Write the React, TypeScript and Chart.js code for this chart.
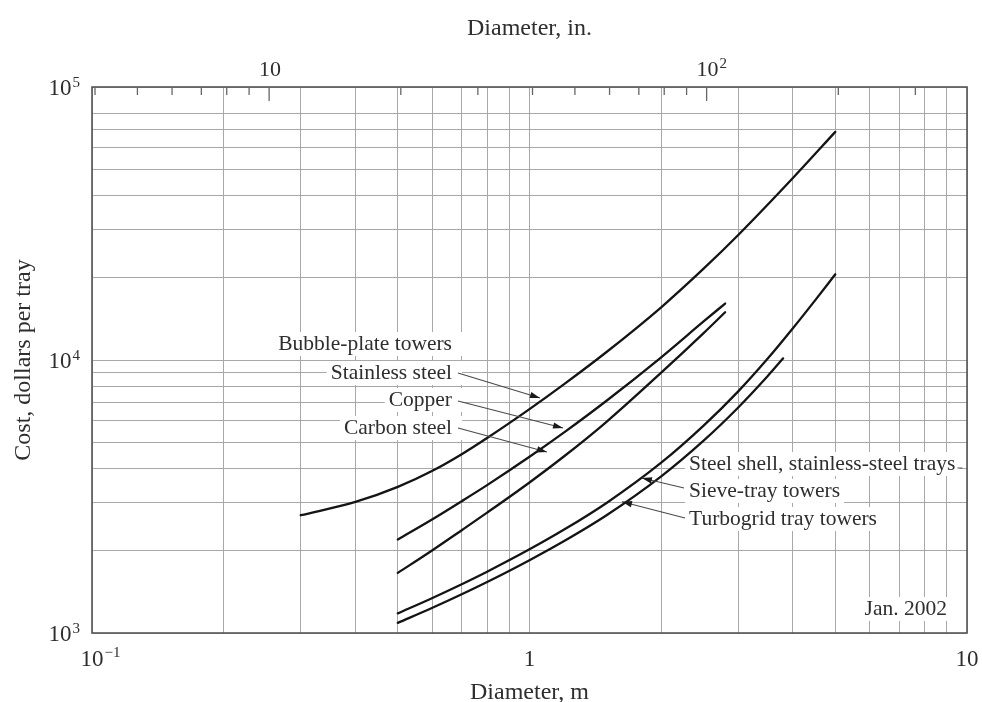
import React, { useEffect, useRef } from "react";
import { Chart, registerables } from "chart.js";

Chart.register(...registerables);

// ---------- axis / grid values ----------
const X_MIN = 0.1;
const X_MAX = 10;
const Y_MIN = 1000;
const Y_MAX = 100000;
const M_TO_IN = 39.37;

const xGridValues = [0.1, 0.2, 0.3, 0.4, 0.5, 0.6, 0.7, 0.8, 0.9, 1, 2, 3, 4, 5, 6, 7, 8, 9, 10];
const yGridValues = [1000, 2000, 3000, 4000, 5000, 6000, 7000, 8000, 9000, 10000, 20000, 30000, 40000, 50000, 60000, 70000, 80000, 100000];
const inchTickValues = [4, 5, 6, 7, 8, 9, 10, 20, 30, 40, 50, 60, 70, 80, 90, 100, 200, 300];
const inchMajorTicks = [10, 100];

const xTickLabels = [
  { value: 0.1, base: "10", exp: "\u22121" },
  { value: 1, base: "1", exp: "" },
  { value: 10, base: "10", exp: "" },
];
const yTickLabels = [
  { value: 1000, base: "10", exp: "3" },
  { value: 10000, base: "10", exp: "4" },
  { value: 100000, base: "10", exp: "5" },
];
const inchTickLabels = [
  { value: 10, base: "10", exp: "" },
  { value: 100, base: "10", exp: "2" },
];

// ---------- series (diameter m, cost $ per tray) ----------
const stainlessX = [0.3, 0.4, 0.5, 0.6, 0.7, 0.8, 1.0, 1.2, 1.5, 2, 2.5, 3, 4, 5];
const stainlessY = [2700, 3020, 3430, 3930, 4520, 5180, 6610, 8160, 10700, 15600, 21600, 28700, 46400, 68500];

const copperX = [0.5, 0.6, 0.7, 0.8, 1.0, 1.2, 1.5, 2, 2.5, 2.8];
const copperY = [2200, 2610, 3040, 3480, 4420, 5430, 7090, 10230, 13840, 16100];

const carbonX = [0.5, 0.6, 0.7, 0.8, 1.0, 1.2, 1.5, 2, 2.5, 2.8];
const carbonY = [1660, 2010, 2380, 2760, 3560, 4440, 5940, 8990, 12550, 14960];

const sieveX = [0.5, 0.6, 0.7, 0.8, 1.0, 1.2, 1.5, 2, 2.5, 3, 3.5, 4, 4.5, 5];
const sieveY = [1180, 1344, 1509, 1677, 2025, 2392, 2995, 4206, 5750, 7677, 10100, 13070, 16570, 20600];

const turboX = [0.5, 0.6, 0.7, 0.8, 1.0, 1.2, 1.5, 2, 2.5, 3, 3.5, 3.8];
const turboY = [1089, 1237, 1386, 1537, 1848, 2172, 2700, 3749, 5066, 6702, 8719, 10140];

// ---------- annotations (data coordinates) ----------
const leftLabels = [
  { text: "Bubble-plate towers", x: 0.665, y: 10880 },
  { text: "Stainless steel", x: 0.665, y: 8519 },
  { text: "Copper", x: 0.665, y: 6785 },
  { text: "Carbon steel", x: 0.665, y: 5357 },
];
const rightLabels = [
  { text: "Steel shell, stainless-steel trays", x: 2.316, y: 3954 },
  { text: "Sieve-tray towers", x: 2.316, y: 3150 },
  { text: "Turbogrid tray towers", x: 2.316, y: 2486 },
];
const dateLabel = { text: "Jan. 2002", x: 9.0, y: 1164 };

const arrows = [
  { fromX: 0.6865, fromY: 8963, toX: 1.057, toY: 7260 },
  { fromX: 0.6865, fromY: 7077, toX: 1.193, toY: 5635 },
  { fromX: 0.6865, fromY: 5635, toX: 1.096, toY: 4603 },
  { fromX: 2.255, fromY: 3397, toX: 1.807, toY: 3697 },
  { fromX: 2.267, fromY: 2638, toX: 1.627, toY: 3027 },
];

const FONT = "'Liberation Serif', 'Times New Roman', serif";
const TEXT_COLOR = "#2e2e2e";
const GRID_COLOR = "#a8a8a8";
const LABEL_SIZE = 21.5;

function pts(xs: number[], ys: number[]) {
  return xs.map((x, i) => ({ x, y: ys[i] }));
}

function drawPow(
  ctx: CanvasRenderingContext2D,
  base: string,
  exp: string,
  x: number,
  y: number,
  mode: "baseCenter" | "right",
  baseSize: number,
  expSize: number,
  raise: number
) {
  ctx.font = `${baseSize}px ${FONT}`;
  const bw = ctx.measureText(base).width;
  ctx.font = `${expSize}px ${FONT}`;
  const ew = exp ? ctx.measureText(exp).width : 0;
  let sx = x - bw / 2;
  if (mode === "right") sx = x - bw - ew - 1;
  ctx.textAlign = "left";
  ctx.textBaseline = "alphabetic";
  ctx.font = `${baseSize}px ${FONT}`;
  ctx.fillText(base, sx, y);
  if (exp) {
    ctx.font = `${expSize}px ${FONT}`;
    ctx.fillText(exp, sx + bw + 1, y - raise);
  }
}

const decorPlugin = {
  id: "decor",
  beforeDatasetsDraw(chart: any) {
    const ctx: CanvasRenderingContext2D = chart.ctx;
    const xs = chart.scales.x;
    const ys = chart.scales.y;
    ctx.save();
    ctx.font = `${LABEL_SIZE}px ${FONT}`;
    ctx.fillStyle = "#ffffff";
    const box = (left: number, right: number, base: number) => {
      ctx.fillRect(left - 4, base - 18, right - left + 8, 24);
    };
    leftLabels.forEach((l) => {
      const px = xs.getPixelForValue(l.x);
      const py = ys.getPixelForValue(l.y);
      const w = ctx.measureText(l.text).width;
      box(px - w, px + 6, py);
    });
    rightLabels.forEach((l) => {
      const px = xs.getPixelForValue(l.x);
      const py = ys.getPixelForValue(l.y);
      const w = ctx.measureText(l.text).width;
      box(px, px + w, py);
    });
    {
      const px = xs.getPixelForValue(dateLabel.x);
      const py = ys.getPixelForValue(dateLabel.y);
      const w = ctx.measureText(dateLabel.text).width;
      box(px - w, px, py);
    }
    ctx.restore();
  },
  afterDatasetsDraw(chart: any) {
    const ctx: CanvasRenderingContext2D = chart.ctx;
    const xs = chart.scales.x;
    const ys = chart.scales.y;
    ctx.save();
    // arrows
    arrows.forEach((a) => {
      const x1 = xs.getPixelForValue(a.fromX);
      const y1 = ys.getPixelForValue(a.fromY);
      const x2 = xs.getPixelForValue(a.toX);
      const y2 = ys.getPixelForValue(a.toY);
      ctx.strokeStyle = "#4a4a4a";
      ctx.lineWidth = 1.1;
      ctx.beginPath();
      ctx.moveTo(x1, y1);
      ctx.lineTo(x2, y2);
      ctx.stroke();
      const ang = Math.atan2(y2 - y1, x2 - x1);
      const len = 10;
      const half = 3.2;
      ctx.fillStyle = "#1a1a1a";
      ctx.beginPath();
      ctx.moveTo(x2, y2);
      ctx.lineTo(x2 - len * Math.cos(ang) + half * Math.sin(ang), y2 - len * Math.sin(ang) - half * Math.cos(ang));
      ctx.lineTo(x2 - len * Math.cos(ang) - half * Math.sin(ang), y2 - len * Math.sin(ang) + half * Math.cos(ang));
      ctx.closePath();
      ctx.fill();
    });
    // labels
    ctx.fillStyle = TEXT_COLOR;
    ctx.font = `${LABEL_SIZE}px ${FONT}`;
    ctx.textBaseline = "alphabetic";
    ctx.textAlign = "right";
    leftLabels.forEach((l) => {
      ctx.fillText(l.text, xs.getPixelForValue(l.x), ys.getPixelForValue(l.y));
    });
    ctx.fillText(dateLabel.text, xs.getPixelForValue(dateLabel.x), ys.getPixelForValue(dateLabel.y));
    ctx.textAlign = "left";
    rightLabels.forEach((l, i) => {
      const px = xs.getPixelForValue(l.x);
      const py = ys.getPixelForValue(l.y);
      ctx.fillText(l.text, px, py);
      if (i === 0) {
        const w = ctx.measureText(l.text).width;
        ctx.strokeStyle = "#555555";
        ctx.lineWidth = 1;
        ctx.beginPath();
        ctx.moveTo(px + w + 2, py - 2);
        ctx.lineTo(px + w + 7, py - 2);
        ctx.stroke();
      }
    });
    ctx.restore();
  },
  afterDraw(chart: any) {
    const ctx: CanvasRenderingContext2D = chart.ctx;
    const { left, right, top, bottom } = chart.chartArea;
    const xs = chart.scales.x;
    const ys = chart.scales.y;
    const x2 = chart.scales.x2;
    ctx.save();
    // frame
    ctx.strokeStyle = "#555555";
    ctx.lineWidth = 1.6;
    ctx.strokeRect(left, top, right - left, bottom - top);
    // inward top ticks (inches)
    ctx.strokeStyle = "#666666";
    ctx.lineWidth = 1.3;
    inchTickValues.forEach((v) => {
      const px = x2.getPixelForValue(v);
      const len = inchMajorTicks.includes(v) ? 14 : 8;
      ctx.beginPath();
      ctx.moveTo(px, top);
      ctx.lineTo(px, top + len);
      ctx.stroke();
    });
    // tick labels
    ctx.fillStyle = TEXT_COLOR;
    xTickLabels.forEach((t) => {
      drawPow(ctx, t.base, t.exp, xs.getPixelForValue(t.value), bottom + 33, "baseCenter", 23, 15, 9);
    });
    yTickLabels.forEach((t) => {
      drawPow(ctx, t.base, t.exp, left - 12, ys.getPixelForValue(t.value) + 8, "right", 23, 15, 8);
    });
    inchTickLabels.forEach((t) => {
      drawPow(ctx, t.base, t.exp, x2.getPixelForValue(t.value) + 1, top - 11, "baseCenter", 22, 15, 8);
    });
    // axis titles
    ctx.font = `24px ${FONT}`;
    ctx.textAlign = "center";
    ctx.textBaseline = "alphabetic";
    const cx = (left + right) / 2;
    ctx.fillText("Diameter, in.", cx, top - 52);
    ctx.fillText("Diameter, m", cx, bottom + 66);
    ctx.save();
    ctx.translate(left - 62, (top + bottom) / 2);
    ctx.rotate(-Math.PI / 2);
    ctx.fillText("Cost, dollars per tray", 0, 0);
    ctx.restore();
    ctx.restore();
  },
};

function lineDataset(label: string, xs: number[], ys: number[]) {
  return {
    label,
    data: pts(xs, ys),
    showLine: true,
    borderColor: "#141414",
    backgroundColor: "#141414",
    borderWidth: 2.3,
    pointRadius: 0,
    cubicInterpolationMode: "monotone" as const,
    borderCapStyle: "round" as const,
    fill: false,
  };
}

export default function App() {
  const canvasRef = useRef<HTMLCanvasElement | null>(null);

  useEffect(() => {
    if (!canvasRef.current) return;
    const chart = new Chart(canvasRef.current, {
      type: "scatter",
      data: {
        datasets: [
          lineDataset("Bubble-plate towers, stainless steel", stainlessX, stainlessY),
          lineDataset("Bubble-plate towers, copper", copperX, copperY),
          lineDataset("Bubble-plate towers, carbon steel", carbonX, carbonY),
          lineDataset("Sieve-tray towers", sieveX, sieveY),
          lineDataset("Turbogrid tray towers", turboX, turboY),
        ],
      },
      options: {
        animation: false,
        responsive: true,
        maintainAspectRatio: false,
        events: [],
        layout: { padding: { left: 0, right: 15, top: 0, bottom: 0 } },
        plugins: {
          legend: { display: false },
          tooltip: { enabled: false },
          title: { display: false },
        },
        scales: {
          x: {
            type: "logarithmic",
            position: "bottom",
            min: X_MIN,
            max: X_MAX,
            afterBuildTicks: (scale: any) => {
              scale.ticks = xGridValues.map((v) => ({ value: v }));
            },
            afterFit: (scale: any) => {
              scale.height = 69;
            },
            ticks: { display: false },
            grid: { color: GRID_COLOR, lineWidth: 1, drawTicks: false },
            border: { display: false },
          },
          x2: {
            type: "logarithmic",
            position: "top",
            min: X_MIN * M_TO_IN,
            max: X_MAX * M_TO_IN,
            afterBuildTicks: (scale: any) => {
              scale.ticks = inchTickValues.map((v) => ({ value: v }));
            },
            afterFit: (scale: any) => {
              scale.height = 87;
            },
            ticks: { display: false },
            grid: { display: false, drawTicks: false },
            border: { display: false },
          },
          y: {
            type: "logarithmic",
            position: "left",
            min: Y_MIN,
            max: Y_MAX,
            afterBuildTicks: (scale: any) => {
              scale.ticks = yGridValues.map((v) => ({ value: v }));
            },
            afterFit: (scale: any) => {
              scale.width = 92;
            },
            ticks: { display: false },
            grid: { color: GRID_COLOR, lineWidth: 1, drawTicks: false },
            border: { display: false },
          },
        },
      } as any,
      plugins: [decorPlugin],
    });
    return () => {
      chart.destroy();
    };
  }, []);

  return (
    <div
      style={{
        position: "absolute",
        left: 0,
        top: 0,
        width: "982px",
        height: "702px",
        background: "#ffffff",
      }}
    >
      <canvas ref={canvasRef} />
    </div>
  );
}
